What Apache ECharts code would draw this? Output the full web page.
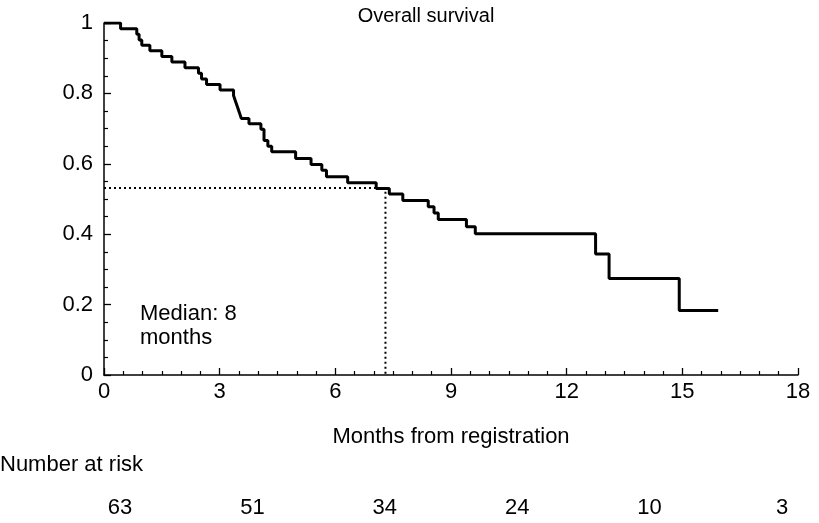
<!DOCTYPE html>
<html>
<head>
<meta charset="utf-8">
<script src="https://cdn.jsdelivr.net/npm/echarts@6/dist/echarts.min.js"></script>
<style>
html,body{margin:0;padding:0;background:#fff;}
#c{width:819px;height:523px;}
</style>
</head>
<body>
<div id="c"></div>
<script>
// Kaplan-Meier step data (time in months, survival after event)
const times = [0, 0.43, 0.85, 0.91, 0.98, 1.19, 1.50, 1.76, 2.10, 2.45, 2.53, 2.66, 3.01, 3.36, 3.41, 3.46, 3.51, 3.56, 3.76, 4.07, 4.15, 4.25, 4.35, 4.97, 5.37, 5.65, 5.77, 6.32, 7.06, 7.40, 7.75, 8.41, 8.56, 8.67, 9.40, 9.63, 12.75, 13.10, 14.92, 15.93];
const surv  = [1, 0.984, 0.968, 0.952, 0.937, 0.921, 0.905, 0.889, 0.873, 0.857, 0.841, 0.825, 0.810, 0.794, 0.778, 0.762, 0.746, 0.729, 0.714, 0.698, 0.666, 0.650, 0.634, 0.615, 0.598, 0.582, 0.563, 0.546, 0.530, 0.514, 0.496, 0.478, 0.460, 0.442, 0.421, 0.401, 0.344, 0.274, 0.183, 0.183];
const medianTime = 7.3;
const medianSurv = 0.531;
const xTicks = [0, 3, 6, 9, 12, 15, 18];
const riskLabels = [63, 51, 34, 24, 10, 3];

const font = 'Liberation Sans, Arial, Helvetica, sans-serif';
const fs = 22;
const kmData = times.map((t, i) => [t, surv[i]]);
const riskData = riskLabels.map((v, i) => [i, 0, v]);

const chart = echarts.init(document.getElementById('c'), null, {renderer: 'canvas'});
chart.setOption({
  animation: false,
  backgroundColor: '#fff',
  textStyle: {fontFamily: font, color: '#000'},
  title: {
    text: 'Overall survival', left: 421, top: 1, textAlign: 'center',
    textStyle: {fontFamily: font, fontSize: 20, fontWeight: 'normal', color: '#000'}
  },
  grid: [
    {left: 104, right: 21, top: 23, bottom: 148},
    {left: 120, width: 662, top: 498, height: 20}
  ],
  xAxis: [{
    gridIndex: 0, type: 'value', min: xTicks[0], max: xTicks[xTicks.length - 1], interval: 3,
    name: 'Months from registration', nameLocation: 'middle', nameGap: 51,
    nameTextStyle: {fontFamily: font, fontSize: fs, color: '#000'},
    axisLine: {lineStyle: {color: '#000', width: 1.5}},
    axisTick: {inside: true, length: 7, lineStyle: {color: '#000', width: 1.3}},
    minorTick: {show: true, splitNumber: 6, length: 4, lineStyle: {color: '#000', width: 1.2}},
    axisLabel: {fontFamily: font, fontSize: fs, color: '#000', margin: 6},
    splitLine: {show: false}
  }, {
    gridIndex: 1, type: 'value', min: 0, max: riskLabels.length - 1, show: false
  }],
  yAxis: [{
    gridIndex: 0, type: 'value', min: 0, max: 1, interval: 0.2,
    axisLine: {show: true, lineStyle: {color: '#000', width: 1.5}},
    axisTick: {show: true, inside: true, length: 7, lineStyle: {color: '#000', width: 1.3}},
    minorTick: {show: true, splitNumber: 4, length: 4, lineStyle: {color: '#000', width: 1.2}},
    axisLabel: {fontFamily: font, fontSize: fs, color: '#000', margin: 11,
      formatter: v => String(+v.toFixed(1))},
    splitLine: {show: false}
  }, {
    gridIndex: 1, type: 'value', min: -1, max: 1, show: false
  }],
  graphic: [
    {type: 'text', left: 0, top: 454, style: {text: 'Number at risk', font: fs + 'px ' + font, fill: '#000'}},
    {type: 'text', left: 140, top: 302, style: {text: 'Median: 8\nmonths', font: fs + 'px ' + font, fill: '#000', lineHeight: 24}}
  ],
  series: [
    {
      type: 'line', xAxisIndex: 0, yAxisIndex: 0, step: 'end', data: kmData,
      showSymbol: false, symbol: 'none',
      lineStyle: {color: '#000', width: 3}, z: 5
    },
    {
      type: 'line', xAxisIndex: 0, yAxisIndex: 0,
      data: [[0, medianSurv], [medianTime, medianSurv], [medianTime, 0]],
      showSymbol: false, symbol: 'none',
      lineStyle: {color: '#000', width: 2, type: [2, 3]}, z: 3
    },
    {
      type: 'scatter', xAxisIndex: 1, yAxisIndex: 1, data: riskData,
      symbolSize: 1, itemStyle: {color: '#fff', opacity: 1},
      emphasis: {disabled: true},
      label: {show: true, position: 'inside', formatter: p => String(p.value[2]),
        fontFamily: font, fontSize: fs, color: '#000', textBorderWidth: 0, opacity: 1}
    }
  ]
});
</script>
</body>
</html>
